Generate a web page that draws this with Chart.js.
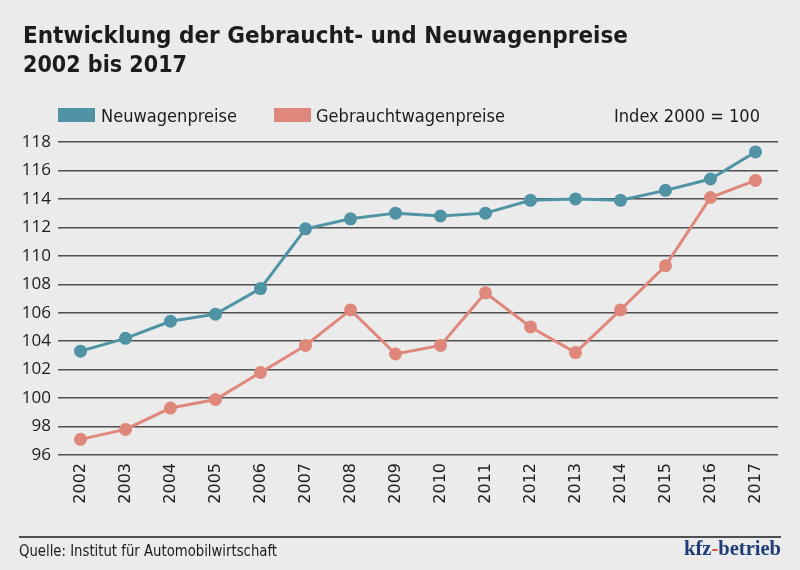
<!DOCTYPE html>
<html lang="de">
<head>
<meta charset="utf-8">
<script src="https://cdn.jsdelivr.net/npm/chart.js@4.4.1/dist/chart.umd.min.js"></script>
<style>
  html, body { margin: 0; padding: 0; }
  body { width: 800px; height: 570px; background: #ebebeb; position: relative; overflow: hidden; }
  #chart { position: absolute; left: 0; top: 0; }
  .txt { position: absolute; white-space: nowrap; transform-origin: 0 50%; color: #1c1c1c; }
  .title { font-family: "DejaVu Sans Condensed", "DejaVu Sans", sans-serif; font-weight: bold; font-size: 23px; line-height: 29px; }
  .leg { font-family: "DejaVu Sans Condensed", "DejaVu Sans", sans-serif; font-size: 17px; line-height: 20px; top: 105.6px; }
  .box { position: absolute; top: 108px; width: 37px; height: 14px; }
  .rule { position: absolute; left: 19px; width: 762px; top: 536px; height: 1.5px; background: #4f4f4f; }
  .src { font-family: "DejaVu Sans Condensed", "DejaVu Sans", sans-serif; font-size: 15px; line-height: 18px; left: 19px; top: 541.8px; }
  .logo { font-family: "Liberation Serif", serif; font-weight: bold; font-size: 20px; line-height: 22px; left: 684px; top: 537.3px; color: #1f3b78; }
  .logo span { color: #d8412f; }
</style>
</head>
<body>
<canvas id="chart" width="800" height="570"></canvas>

<div class="txt title" style="left:23px; top:20.5px" data-w="605">Entwicklung der Gebraucht- und Neuwagenpreise</div>
<div class="txt title" style="left:23px; top:49.5px" data-w="164">2002 bis 2017</div>

<div class="box" style="left:58px; background:#4f93a4"></div>
<div class="txt leg" style="left:101px" data-w="136">Neuwagenpreise</div>
<div class="box" style="left:274px; background:#e0877b"></div>
<div class="txt leg" style="left:316px" data-w="189">Gebrauchtwagenpreise</div>
<div class="txt leg" style="left:614px" data-w="146">Index 2000 = 100</div>

<div class="rule"></div>
<div class="txt src" data-w="258">Quelle: Institut für Automobilwirtschaft</div>
<div class="txt logo" data-w="97">kfz<span>-</span>betrieb</div>

<script>
(function(){
  // Daten (Index 2000 = 100)
  const years     = ['2002','2003','2004','2005','2006','2007','2008','2009','2010','2011','2012','2013','2014','2015','2016','2017'];
  const neuwagen  = [103.3, 104.2, 105.4, 105.9, 107.7, 111.9, 112.6, 113.0, 112.8, 113.0, 113.9, 114.0, 113.9, 114.6, 115.4, 117.3];
  const gebraucht = [97.1, 97.8, 99.3, 99.9, 101.8, 103.7, 106.2, 103.1, 103.7, 107.4, 105.0, 103.2, 106.2, 109.3, 114.1, 115.3];
  const yMin = 96, yMax = 118, yStep = 2;

  const TEAL = '#4f93a4';
  const SALMON = '#e0877b';

  // Texte auf Zielbreite stauchen (schmale Schrift im Original)
  document.querySelectorAll('[data-w]').forEach(el => {
    const w = el.getBoundingClientRect().width;
    if (w > 0) el.style.transform = 'scaleX(' + (el.dataset.w / w) + ')';
  });

  const ctx = document.getElementById('chart').getContext('2d');

  new Chart(ctx, {
    type: 'line',
    data: {
      labels: years,
      datasets: [
        {
          label: 'Neuwagenpreise',
          data: neuwagen,
          borderColor: TEAL,
          backgroundColor: TEAL,
          pointBackgroundColor: TEAL,
          borderWidth: 3,
          pointRadius: 6.5,
          pointBorderWidth: 0,
          tension: 0,
          clip: false
        },
        {
          label: 'Gebrauchtwagenpreise',
          data: gebraucht,
          borderColor: SALMON,
          backgroundColor: SALMON,
          pointBackgroundColor: SALMON,
          borderWidth: 3,
          pointRadius: 6.5,
          pointBorderWidth: 0,
          tension: 0,
          clip: false
        }
      ]
    },
    options: {
      responsive: false,
      animation: false,
      layout: { padding: { left: 0, right: 22, top: 142, bottom: 0 } },
      plugins: {
        legend: { display: false },
        tooltip: { enabled: false }
      },
      scales: {
        x: {
          offset: true,
          grid: { display: false, drawTicks: false },
          border: { display: false },
          ticks: {
            minRotation: 90,
            maxRotation: 90,
            padding: 8,
            color: '#1c1c1c',
            font: { family: 'DejaVu Sans', size: 16 }
          },
          afterFit: s => { s.height = 115; }
        },
        y: {
          min: yMin,
          max: yMax,
          grid: { color: '#4f4f4f', lineWidth: 1.5, drawTicks: false },
          border: { display: false },
          ticks: {
            stepSize: yStep,
            padding: 7,
            color: '#1c1c1c',
            font: { family: 'Open Sans', size: 17 }
          },
          afterFit: s => { s.width = 58; }
        }
      }
    }
  });
})();
</script>
</body>
</html>
